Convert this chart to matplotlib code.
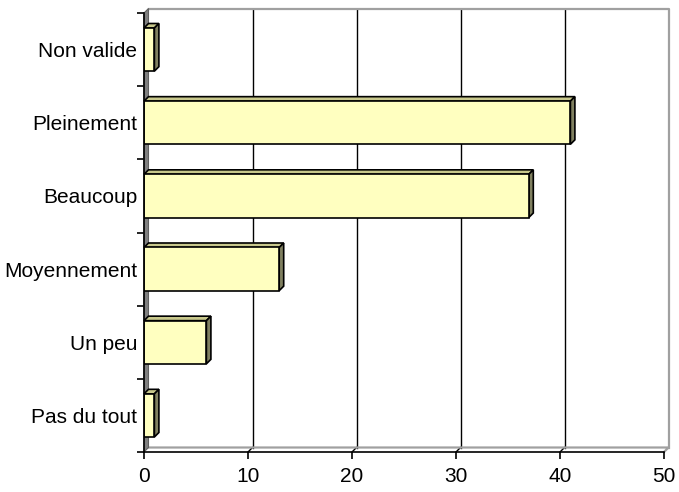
import matplotlib.pyplot as plt
from matplotlib.patches import Polygon

categories = ["Pas du tout", "Un peu", "Moyennement", "Beaucoup", "Pleinement", "Non valide"]
values = [1, 6, 13, 37, 41, 1]
xticks = [0, 10, 20, 30, 40, 50]

FACE = "#FFFFC0"
TOP = "#C8C88C"
SIDE = "#808060"
WALL = "#808080"
EDGE_GRAY = "#A0A0A0"

plt.rcParams["font.family"] = ["Liberation Sans", "DejaVu Sans"]

W, H, DPI = 679, 492, 100
fig = plt.figure(figsize=(W / DPI, H / DPI), dpi=DPI)
fig.patch.set_facecolor("white")

x0, x1, ytop, ybot = 144, 664, 13, 452
ax = fig.add_axes([x0 / W, (H - ybot) / H, (x1 - x0) / W, (ybot - ytop) / H])
ax.set_facecolor("none")

xmax = xticks[-1]
n = len(categories)
ax.set_xlim(0, xmax)
ax.set_ylim(-0.5, n - 0.5)

# depth of the 3d effect, in pixels -> data units
px_x = (x1 - x0) / xmax
px_y = (ybot - ytop) / n
dx = 4.5 / px_x
dy = 4.5 / px_y
ylo, yhi = -0.5, n - 0.5

# back wall: gridlines and outline
for t in xticks[1:-1]:
    ax.plot([t + dx, t + dx], [ylo + dy, yhi + dy], color="black", lw=1, zorder=1, clip_on=False)
    ax.plot([t, t + dx], [ylo, ylo + dy], color="black", lw=1, zorder=1, clip_on=False)
ax.plot([dx, xmax + dx, xmax + dx], [yhi + dy, yhi + dy, ylo + dy], color=EDGE_GRAY, lw=1.6,
        zorder=1, clip_on=False)
ax.plot([dx, xmax + dx, xmax], [ylo + dy, ylo + dy, ylo], color=EDGE_GRAY, lw=1.6, zorder=1,
        clip_on=False)

# left wall
ax.add_patch(Polygon([(0, ylo), (0, yhi), (dx, yhi + dy), (dx, ylo + dy)], closed=True,
                     facecolor=WALL, edgecolor="#606060", lw=0.8, zorder=2, clip_on=False))

# bars
bh = 0.59
ypos = list(range(n))
ax.barh(ypos, values, height=bh, color=FACE, edgecolor="black", linewidth=1.2, zorder=4)
for y, v in zip(ypos, values):
    b0, b1 = y - bh / 2, y + bh / 2
    ax.add_patch(Polygon([(0, b1), (v, b1), (v + dx, b1 + dy), (dx, b1 + dy)], closed=True,
                         facecolor=TOP, edgecolor="black", lw=1.2, zorder=3, clip_on=False))
    ax.add_patch(Polygon([(v, b0), (v, b1), (v + dx, b1 + dy), (v + dx, b0 + dy)], closed=True,
                         facecolor=SIDE, edgecolor="black", lw=1.2, zorder=3, clip_on=False))

# front axes
for s in ["top", "right"]:
    ax.spines[s].set_visible(False)
for s in ["left", "bottom"]:
    ax.spines[s].set_color("black")
    ax.spines[s].set_linewidth(1.2)
    ax.spines[s].set_zorder(5)

ax.set_xticks(xticks)
ax.set_xticklabels([str(t) for t in xticks])
ax.set_yticks([i + 0.5 for i in range(-1, n)], minor=False)
ax.set_yticklabels([])
ax.set_yticks(ypos, minor=True)
ax.set_yticklabels(categories, minor=True)
ax.tick_params(axis="y", which="major", length=5, width=1.2, direction="out")
ax.tick_params(axis="y", which="minor", length=0, pad=5, labelsize=15)
ax.tick_params(axis="x", length=5, width=1.2, direction="out", pad=5.5, labelsize=15)

fig.savefig("out.png", dpi=DPI)
